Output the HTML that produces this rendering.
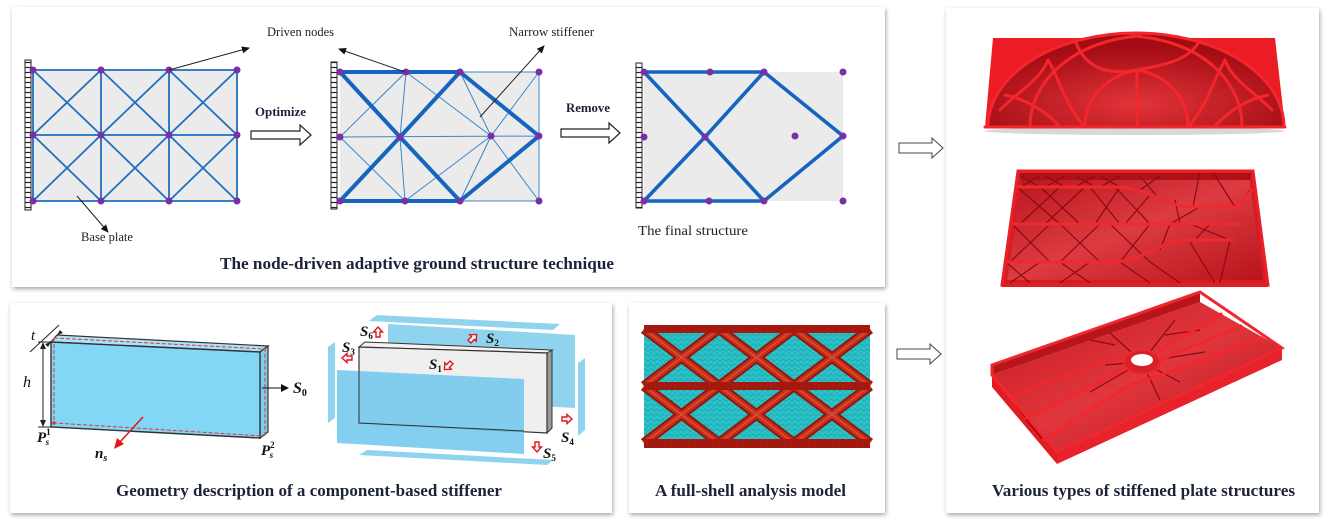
<!DOCTYPE html>
<html>
<head>
<meta charset="utf-8">
<style>
  html,body{margin:0;padding:0;background:#ffffff;}
  svg{display:block;}
  .ttl{font-family:"Liberation Serif",serif;font-weight:bold;fill:#1c2238;}
  .lbl{font-family:"Liberation Serif",serif;fill:#222;}
  .m{font-family:"Liberation Serif",serif;font-weight:bold;font-style:italic;fill:#111;}
</style>
</head>
<body>
<svg width="1328" height="531" viewBox="0 0 1328 531" xmlns="http://www.w3.org/2000/svg">
  <defs>
    <filter id="sh" x="-5%" y="-5%" width="110%" height="112%">
      <feDropShadow dx="1" dy="2" stdDeviation="2" flood-color="#000" flood-opacity="0.35"/>
    </filter>
    <marker id="ah" markerWidth="8" markerHeight="8" refX="7" refY="4" orient="auto" markerUnits="userSpaceOnUse">
      <path d="M0,0.5 L8,4 L0,7.5 Z" fill="#111"/>
    </marker>
    <pattern id="ladder" width="6" height="5" patternUnits="userSpaceOnUse">
      <rect width="6" height="5" fill="#fff"/>
      <line x1="0" y1="2.5" x2="6" y2="2.5" stroke="#222" stroke-width="1.2"/>
    </pattern>
    <pattern id="mesh" width="6" height="5" patternUnits="userSpaceOnUse">
      <rect width="6" height="5" fill="#2cc6cc"/>
      <path d="M0,0 L6,0 M0,0 L3,5 L6,0 M0,5 L6,5" stroke="#1b9aa2" stroke-width="0.5" fill="none"/>
    </pattern>
    <pattern id="bandp" width="3" height="8" patternUnits="userSpaceOnUse">
      <rect width="3" height="8" fill="#a81a10"/>
      <line x1="0" y1="0" x2="0" y2="8" stroke="#7e120a" stroke-width="0.6"/>
    </pattern>
    <radialGradient id="archg" cx="50%" cy="75%" r="60%">
      <stop offset="0" stop-color="#e2343a"/>
      <stop offset="1" stop-color="#a40c14"/>
    </radialGradient>
    <linearGradient id="floor2" x1="0" y1="0" x2="1" y2="1">
      <stop offset="0" stop-color="#b8141c"/>
      <stop offset="0.5" stop-color="#de3a42"/>
      <stop offset="1" stop-color="#b8141c"/>
    </linearGradient>
    <linearGradient id="floor3" x1="0" y1="0" x2="1" y2="1">
      <stop offset="0" stop-color="#c41820"/>
      <stop offset="0.5" stop-color="#e0363e"/>
      <stop offset="1" stop-color="#b8121a"/>
    </linearGradient>
    <g id="rarr">
      <polygon points="-5,-2 0,-2 0,-4.5 5,0 0,4.5 0,2 -5,2" fill="#fff" stroke="#e0141c" stroke-width="1.4"/>
    </g>
  </defs>

  <!-- ============ PANELS ============ -->
  <rect x="12" y="7" width="873" height="280" fill="#fff" filter="url(#sh)"/>
  <rect x="10" y="303" width="602" height="210" fill="#fff" filter="url(#sh)"/>
  <rect x="629" y="303" width="256" height="210" fill="#fff" filter="url(#sh)"/>
  <rect x="946" y="8" width="373" height="505" fill="#fff" filter="url(#sh)"/>

  <!-- ============ GRID 1 ============ -->
  <rect x="33" y="70" width="204" height="131" fill="#ebebeb"/>
  <g stroke="#1f6fc0" stroke-width="1.8" fill="none">
    <line x1="33" y1="70" x2="237" y2="70"/>
    <line x1="33" y1="135" x2="237" y2="135"/>
    <line x1="33" y1="201" x2="237" y2="201"/>
    <line x1="33" y1="70" x2="33" y2="201"/>
    <line x1="101" y1="70" x2="101" y2="201"/>
    <line x1="169" y1="70" x2="169" y2="201"/>
    <line x1="237" y1="70" x2="237" y2="201"/>
    <path d="M33,70 L101,135 L169,201 M101,70 L169,135 L237,201 M169,70 L237,135 M33,135 L101,201
             M101,70 L33,135 M169,70 L101,135 L33,201 M237,70 L169,135 L101,201 M237,135 L169,201"/>
  </g>
  <rect x="25" y="60" width="6" height="150" fill="url(#ladder)" stroke="#222" stroke-width="1"/>
  <g fill="#7b2fa6">
    <circle cx="33" cy="70" r="3.5"/><circle cx="101" cy="70" r="3.5"/><circle cx="169" cy="70" r="3.5"/><circle cx="237" cy="70" r="3.5"/>
    <circle cx="33" cy="135" r="3.5"/><circle cx="101" cy="135" r="3.5"/><circle cx="169" cy="135" r="3.5"/><circle cx="237" cy="135" r="3.5"/>
    <circle cx="33" cy="201" r="3.5"/><circle cx="101" cy="201" r="3.5"/><circle cx="169" cy="201" r="3.5"/><circle cx="237" cy="201" r="3.5"/>
  </g>

  <!-- ============ GRID 2 ============ -->
  <rect x="340" y="72" width="199" height="129" fill="#ebebeb"/>
  <g stroke="#3c86c8" stroke-width="1" fill="none">
    <path d="M460,72 L539,72 L539,201 L460,201 M340,137 L539,136
             M406,72 L340,137 M406,72 L400,137 M406,72 L491,136
             M405,201 L340,137 M405,201 L400,137 M405,201 L491,136
             M460,72 L491,136 M460,201 L491,136 M539,72 L491,136 M539,201 L491,136"/>
  </g>
  <g stroke="#1565c0" stroke-width="4" fill="none" stroke-linecap="round">
    <path d="M340,72 L460,72 M340,201 L460,201 M340,72 L400,137 L460,201 M340,201 L400,137 L460,72 M460,72 L539,136 L460,201"/>
  </g>
  <rect x="331" y="62" width="6" height="147" fill="url(#ladder)" stroke="#222" stroke-width="1"/>
  <g fill="#7b2fa6">
    <circle cx="340" cy="72" r="3.5"/><circle cx="406" cy="72" r="3.5"/><circle cx="460" cy="72" r="3.5"/><circle cx="539" cy="72" r="3.5"/>
    <circle cx="340" cy="137" r="3.5"/><circle cx="400" cy="137" r="3.5"/><circle cx="491" cy="136" r="3.5"/><circle cx="539" cy="136" r="3.5"/>
    <circle cx="340" cy="201" r="3.5"/><circle cx="405" cy="201" r="3.5"/><circle cx="460" cy="201" r="3.5"/><circle cx="539" cy="201" r="3.5"/>
  </g>

  <!-- ============ GRID 3 (final) ============ -->
  <rect x="644" y="72" width="199" height="129" fill="#ebebeb"/>
  <g stroke="#1565c0" stroke-width="3.6" fill="none" stroke-linecap="round">
    <path d="M644,72 L764,72 M644,201 L764,201 M644,72 L705,137 L764,201 M644,201 L705,137 L764,72 M764,72 L843,136 L764,201"/>
  </g>
  <rect x="636" y="63" width="6" height="145" fill="url(#ladder)" stroke="#222" stroke-width="1"/>
  <g fill="#7b2fa6">
    <circle cx="644" cy="72" r="3.5"/><circle cx="710" cy="72" r="3.5"/><circle cx="764" cy="72" r="3.5"/><circle cx="843" cy="72" r="3.5"/>
    <circle cx="644" cy="137" r="3.5"/><circle cx="705" cy="137" r="3.5"/><circle cx="795" cy="136" r="3.5"/><circle cx="843" cy="136" r="3.5"/>
    <circle cx="644" cy="201" r="3.5"/><circle cx="709" cy="201" r="3.5"/><circle cx="764" cy="201" r="3.5"/><circle cx="843" cy="201" r="3.5"/>
  </g>

  <!-- annotation arrows -->
  <g stroke="#222" stroke-width="1" fill="none" marker-end="url(#ah)">
    <line x1="169" y1="70" x2="249" y2="48"/>
    <line x1="405" y1="72" x2="339" y2="49"/>
    <line x1="480" y1="117" x2="544" y2="46"/>
    <line x1="77" y1="196" x2="108" y2="232"/>
  </g>
  <text class="lbl" x="267" y="36" font-size="12.5" textLength="67" lengthAdjust="spacingAndGlyphs">Driven nodes</text>
  <text class="lbl" x="509" y="36" font-size="12.5" textLength="85" lengthAdjust="spacingAndGlyphs">Narrow stiffener</text>
  <text class="lbl" x="81" y="241" font-size="12.5" textLength="52" lengthAdjust="spacingAndGlyphs">Base plate</text>
  <text class="lbl" x="638" y="235" font-size="14" textLength="110" lengthAdjust="spacingAndGlyphs">The final structure</text>

  <!-- block arrows -->
  <polygon points="251,131 300,131 300,125 311,135 300,145 300,139 251,139" fill="#fff" stroke="#222" stroke-width="1.2"/>
  <text class="ttl" x="255" y="116" font-size="13" fill="#111" textLength="51" lengthAdjust="spacingAndGlyphs">Optimize</text>
  <polygon points="561,129 609,129 609,123 620,133 609,143 609,137 561,137" fill="#fff" stroke="#222" stroke-width="1.2"/>
  <text class="ttl" x="566" y="112" font-size="13" textLength="44" lengthAdjust="spacingAndGlyphs">Remove</text>

  <polygon points="899,143 932,143 932,138 943,148 932,158 932,153 899,153" fill="#fff" stroke="#444" stroke-width="1"/>
  <polygon points="897,349 930,349 930,344 941,354 930,364 930,359 897,359" fill="#fff" stroke="#444" stroke-width="1"/>

  <text class="ttl" x="220" y="269" font-size="17" textLength="394" lengthAdjust="spacingAndGlyphs">The node-driven adaptive ground structure technique</text>

  <!-- ============ GEOMETRY: plate ============ -->
  <polygon points="51,342 57,335 268,346 260,352" fill="#a9e4f8" stroke="#333" stroke-width="1.2"/>
  <polygon points="260,352 268,346 268,432 260,438" fill="#7ccdee" stroke="#333" stroke-width="1.2"/>
  <polygon points="51,342 260,352 260,438 51,427" fill="#82d6f6" stroke="#333" stroke-width="1.4"/>
  <path d="M54,338 L265,349 L265,436 M54,338 L54,423 L263,436" stroke="#e8333a" stroke-width="1" stroke-dasharray="4,2" fill="none"/>
  <circle cx="54" cy="423" r="1.8" fill="#e8333a"/>
  <g stroke="#222" stroke-width="1" fill="none">
    <line x1="38" y1="342" x2="51" y2="342"/>
    <line x1="38" y1="427" x2="51" y2="427"/>
    <line x1="43" y1="345" x2="43" y2="424"/>
    <line x1="30" y1="352" x2="59" y2="325"/>
  </g>
  <path d="M43,342 L40,349 L46,349 Z M43,427 L40,420 L46,420 Z" fill="#222"/>
  <path d="M51,342 L45,344 L48,347 Z M57,335 L63,333 L60,330 Z" fill="#222"/>
  <text x="31" y="340" font-family="Liberation Serif,serif" font-style="italic" font-size="15" fill="#111">t</text>
  <text x="23" y="387" font-family="Liberation Serif,serif" font-style="italic" font-size="16" fill="#111">h</text>
  <line x1="262" y1="388" x2="282" y2="388" stroke="#111" stroke-width="1"/>
  <path d="M281,384 L289,388 L281,392 Z" fill="#111"/>
  <text class="m" x="293" y="393" font-size="16">S<tspan font-size="10" font-style="normal" dy="3">0</tspan></text>
  <line x1="143" y1="417" x2="119" y2="443" stroke="#e01818" stroke-width="1.5"/>
  <path d="M114,449 L117,438 L124,444 Z" fill="#e01818"/>
  <text class="m" x="95" y="458" font-size="15">n<tspan font-size="10" dy="3">s</tspan></text>
  <text class="m" x="37" y="442" font-size="15">P<tspan font-size="9" dx="0" dy="-7" font-style="normal">1</tspan><tspan font-size="9" dx="-5" dy="10">s</tspan></text>
  <text class="m" x="261" y="455" font-size="15">P<tspan font-size="9" dy="-7" font-style="normal">2</tspan><tspan font-size="9" dx="-5" dy="10">s</tspan></text>

  <!-- ============ GEOMETRY: box with planes ============ -->
  <polygon points="388,324 575,335 575,408 388,398" fill="#8fd3ee"/>
  <polygon points="369,321 377,315 560,324 553,330" fill="#8fd3ee"/>
  <polygon points="328,347 335,342 335,418 328,423" fill="#8fd3ee"/>
  <polygon points="578,363 585,358 585,430 578,436" fill="#8fd3ee"/>
  <polygon points="359,455 367,450 553,460 547,465" fill="#8fd3ee"/>
  <polygon points="359,347 365,342 552,350 547,353" fill="#f2f2f2" stroke="#333" stroke-width="1"/>
  <polygon points="547,353 552,350 552,428 547,433" fill="#9a9a9a" stroke="#333" stroke-width="1"/>
  <polygon points="359,347 547,353 547,433 359,423" fill="#efefef" stroke="#333" stroke-width="1.2"/>
  <polygon points="337,370 524,379 524,454 337,443" fill="#6fc6ec" fill-opacity="0.85"/>
  <polyline points="359,370 359,423 524,431" fill="none" stroke="#333" stroke-width="1"/>

  <text class="m" x="360" y="336" font-size="15">S<tspan font-size="9" font-style="normal" dy="3">6</tspan></text>
  <text class="m" x="486" y="343" font-size="15">S<tspan font-size="9" font-style="normal" dy="3">2</tspan></text>
  <text class="m" x="342" y="352" font-size="15">S<tspan font-size="9" font-style="normal" dy="3">3</tspan></text>
  <text class="m" x="429" y="369" font-size="15">S<tspan font-size="9" font-style="normal" dy="3">1</tspan></text>
  <text class="m" x="561" y="442" font-size="15">S<tspan font-size="9" font-style="normal" dy="3">4</tspan></text>
  <text class="m" x="543" y="458" font-size="15">S<tspan font-size="9" font-style="normal" dy="3">5</tspan></text>
  <use href="#rarr" transform="translate(378,332) rotate(-90)"/>
  <use href="#rarr" transform="translate(473,338) rotate(-45)"/>
  <use href="#rarr" transform="translate(347,358) rotate(180)"/>
  <use href="#rarr" transform="translate(448,366) rotate(135)"/>
  <use href="#rarr" transform="translate(567,419)"/>
  <use href="#rarr" transform="translate(537,447) rotate(90)"/>

  <text class="ttl" x="116" y="496" font-size="17" textLength="386" lengthAdjust="spacingAndGlyphs">Geometry description of a component-based stiffener</text>

  <!-- ============ FULL SHELL MODEL ============ -->
  <rect x="644" y="325" width="226" height="123" fill="url(#mesh)"/>
  <g stroke-linecap="butt">
    <g stroke="#8c1a0c" stroke-width="10" fill="none">
      <path d="M644,329 L719,386 L794,443 M719,329 L794,386 L870,443 M794,329 L870,386
               M719,329 L644,386 M794,329 L719,386 L644,443 M870,329 L794,386 L719,443 M870,386 L794,443
               M644,386 L719,443"/>
    </g>
    <g stroke="#c82e1c" stroke-width="6" fill="none">
      <path d="M644,329 L719,386 L794,443 M719,329 L794,386 L870,443 M794,329 L870,386
               M719,329 L644,386 M794,329 L719,386 L644,443 M870,329 L794,386 L719,443 M870,386 L794,443
               M644,386 L719,443"/>
    </g>
    <g stroke="#e0503a" stroke-width="1.2" fill="none">
      <path d="M644,329 L719,386 L794,443 M719,329 L794,386 L870,443 M794,329 L870,386
               M719,329 L644,386 M794,329 L719,386 L644,443 M870,329 L794,386 L719,443 M870,386 L794,443
               M644,386 L719,443"/>
    </g>
  </g>
  <rect x="644" y="325" width="226" height="8" fill="url(#bandp)"/>
  <rect x="644" y="382" width="226" height="8" fill="url(#bandp)"/>
  <rect x="644" y="439" width="226" height="9" fill="url(#bandp)"/>
  <text class="ttl" x="655" y="496" font-size="17" textLength="191" lengthAdjust="spacingAndGlyphs">A full-shell analysis model</text>

  <!-- ============ RED OBJECT 1 ============ -->
  <ellipse cx="1135" cy="131" rx="150" ry="4" fill="#d8d8d8"/>
  <polygon points="993,38 1275,38 1285,127 985,127" fill="#ec1c24"/>
  <path d="M988,127 A148 94 0 0 1 1284,127 Z" fill="url(#archg)"/>
  <g stroke="#f3262c" stroke-width="3" fill="none" stroke-linecap="round">
    <path d="M988,127 A148 94 0 0 1 1284,127"/>
    <path d="M1030,127 C1030,80 1075,40 1140,36"/>
    <path d="M1242,127 C1242,80 1200,40 1132,36"/>
    <path d="M1085,127 C1085,95 1110,75 1137,70 C1165,75 1188,95 1188,127"/>
    <path d="M1075,40 C1085,70 1110,75 1137,70 C1165,65 1190,60 1200,40"/>
    <path d="M1005,95 C1030,100 1050,115 1060,127"/>
    <path d="M1268,95 C1243,100 1225,115 1214,127"/>
    <path d="M1048,60 C1060,80 1065,105 1085,127"/>
    <path d="M1225,60 C1213,80 1208,105 1188,127"/>
    <path d="M1000,110 C1020,90 1040,80 1048,60"/>
    <path d="M1272,110 C1252,90 1232,80 1225,60"/>
    <path d="M1137,70 L1137,127"/>
    <line x1="985" y1="127" x2="1285" y2="127"/>
  </g>

  <!-- ============ RED OBJECT 2 ============ -->
  <polygon points="1018,171 1253,171 1268,285 1002,285" fill="#d41c24"/>
  <polygon points="1022,176 1249,176 1263,280 1007,280" fill="url(#floor2)"/>
  <polygon points="1020,173 1251,173 1250,180 1021,180" fill="#b01018"/>
  <g stroke="#8c0a10" stroke-width="1.2" fill="none">
    <path d="M1020,176 L1040,187 M1040,176 L1020,187 M1045,176 L1065,187 M1065,176 L1045,187 M1075,176 L1095,187 M1095,176 L1075,187 M1100,176 L1120,187 M1120,176 L1100,187 M1140,176 L1160,200 M1160,176 L1140,190
             M1017,187 L1060,224 M1040,187 L1080,224 M1060,187 L1020,224 M1085,187 L1045,224 M1090,187 L1120,224 M1115,187 L1150,224 M1120,187 L1095,224 M1150,195 L1125,224 M1175,200 L1180,224 M1200,207 L1170,224
             M1012,224 L1050,262 M1050,224 L1010,262 M1060,224 L1100,262 M1100,224 L1060,262 M1110,224 L1150,262 M1150,224 L1120,262 M1170,224 L1160,250 M1190,224 L1230,240 M1210,224 L1195,240
             M1006,262 L1030,283 M1040,262 L1010,283 M1060,262 L1090,283 M1090,262 L1060,283 M1120,262 L1150,283 M1150,262 L1180,283 M1190,242 L1215,283 M1230,240 L1220,283
             M1200,171 L1193,207 M1212,171 L1235,207 M1237,207 L1250,190"/>
  </g>
  <g stroke="#ee2a30" stroke-width="3" fill="none" stroke-linecap="round">
    <path d="M1017,187 L1113,187 C1150,187 1165,207 1193,207 L1237,207 L1252,190"/>
    <path d="M1012,224 L1239,224"/>
    <path d="M1005,262 L1110,262 C1145,262 1160,240 1187,240 L1232,240"/>
  </g>
  <polygon points="1018,171 1253,171 1268,285 1002,285" fill="none" stroke="#ea2028" stroke-width="3"/>
  <line x1="1002" y1="285" x2="1268" y2="285" stroke="#e01e26" stroke-width="4"/>

  <!-- ============ RED OBJECT 3 ============ -->
  <polygon points="992,375 1057,452 1057,464 992,387" fill="#e01c24"/>
  <polygon points="1057,452 1282,348 1282,360 1057,464" fill="#e8222a"/>
  <polygon points="992,375 1200,302 1282,348 1057,452" fill="url(#floor3)"/>
  <polygon points="992,375 1200,302 1200,292 992,365" fill="#b8141c"/>
  <g stroke="#8c0a10" stroke-width="1.2" fill="none">
    <path d="M1009,397 L1040,385 M1026,418 L1010,397 M1043,440 L1025,418 M1105,365 L1142,362 L1175,320 M1142,362 L1110,333 M1142,362 L1180,382 M1142,362 L1205,352 M1142,362 L1090,392 M1142,362 L1160,400 M1115,345 L1090,340 M1165,335 L1200,330"/>
  </g>
  <g stroke="#f0282e" stroke-width="3" fill="none" stroke-linecap="round">
    <path d="M992,365 L1200,292 L1282,348 L1057,452 L992,375 Z"/>
    <path d="M1009,397 L1110,359 L1125,355 M1160,350 L1221,314"/>
    <path d="M1026,418 L1124,370 M1160,360 L1241,326"/>
    <path d="M1043,440 L1130,385 L1175,370 L1262,338"/>
  </g>
  <ellipse cx="1142" cy="362" rx="18" ry="12" fill="#d82028" stroke="#f0282e" stroke-width="2"/>
  <ellipse cx="1142" cy="360" rx="11" ry="6" fill="#fff"/>

  <text class="ttl" x="992" y="496" font-size="17" textLength="303" lengthAdjust="spacingAndGlyphs">Various types of stiffened plate structures</text>
</svg>
</body>
</html>
